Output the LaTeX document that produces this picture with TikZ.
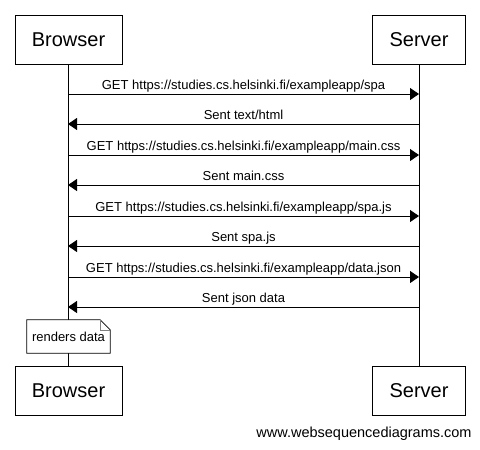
\documentclass[tikz,border=0pt]{standalone}
\usepackage{fontspec}
\setmainfont{Liberation Sans}
\usetikzlibrary{arrows.meta}
\tikzstyle{actor} = [draw, rectangle, fill=white, line width=1pt, minimum height=49pt, inner sep=0pt, font=\fontsize{20}{24}\selectfont]
\tikzstyle{msg} = [line width=1pt, ->]
\tikzstyle{lbl} = [above, inner sep=1pt, text depth=3pt, font=\fontsize{13}{15}\selectfont]

\begin{document}
\begin{tikzpicture}[x=1pt, y=-1pt, >={Triangle[length=9pt,width=12pt]}]
    \useasboundingbox (0,0) rectangle (480,450);
    % Nodes
    \node[actor, minimum width=107pt] (B) at (68.5,39.5) {Browser};
    \node[actor, minimum width=93pt] (S) at (419,39.5) {Server};
    \node[actor, minimum width=107pt] (B2) at (68.5,390.5) {Browser};
    \node[actor, minimum width=93pt] (S2) at (419,390.5) {Server};
    \node[minimum width=83pt, minimum height=33pt, inner sep=0pt] (N) at (68.5,336.5) {};
    \node[font=\fontsize{14.5}{16}\selectfont] (W) at (364,434) {www.websequencediagrams.com};

    % Lifelines
    \draw[line width=1pt] (B) -- (N);
    \draw[line width=1pt] (N) -- (B2);
    \draw[line width=1pt] (S) -- (S2);

    % Note
    \draw[line width=0.8pt, fill=white] (N.south west) -- (N.north west) -- ([xshift=-10pt]N.north east) -- ([yshift=-10pt]N.north east) -- (N.south east) -- cycle;
    \draw[line width=0.6pt, gray] ([xshift=-10pt]N.north east) |- ([yshift=-10pt]N.north east);
    \node[font=\fontsize{13}{15}\selectfont] at (N) {renders data};

    % Points on the lifelines
    \coordinate (b1) at (68,94);  \coordinate (s1) at (419,94);
    \coordinate (b2) at (68,124); \coordinate (s2) at (419,124);
    \coordinate (b3) at (68,155); \coordinate (s3) at (419,155);
    \coordinate (b4) at (68,185); \coordinate (s4) at (419,185);
    \coordinate (b5) at (68,216); \coordinate (s5) at (419,216);
    \coordinate (b6) at (68,246); \coordinate (s6) at (419,246);
    \coordinate (b7) at (68,277); \coordinate (s7) at (419,277);
    \coordinate (b8) at (68,307); \coordinate (s8) at (419,307);

    % Messages
    \draw[msg] (b1) -- node[lbl] {GET https://studies.cs.helsinki.fi/exampleapp/spa} (s1);
    \draw[msg] (s2) -- node[lbl] {Sent text/html} (b2);
    \draw[msg] (b3) -- node[lbl] {GET https://studies.cs.helsinki.fi/exampleapp/main.css} (s3);
    \draw[msg] (s4) -- node[lbl] {Sent main.css} (b4);
    \draw[msg] (b5) -- node[lbl] {GET https://studies.cs.helsinki.fi/exampleapp/spa.js} (s5);
    \draw[msg] (s6) -- node[lbl] {Sent spa.js} (b6);
    \draw[msg] (b7) -- node[lbl] {GET https://studies.cs.helsinki.fi/exampleapp/data.json} (s7);
    \draw[msg] (s8) -- node[lbl] {Sent json data} (b8);
  \end{tikzpicture}
\end{document}
